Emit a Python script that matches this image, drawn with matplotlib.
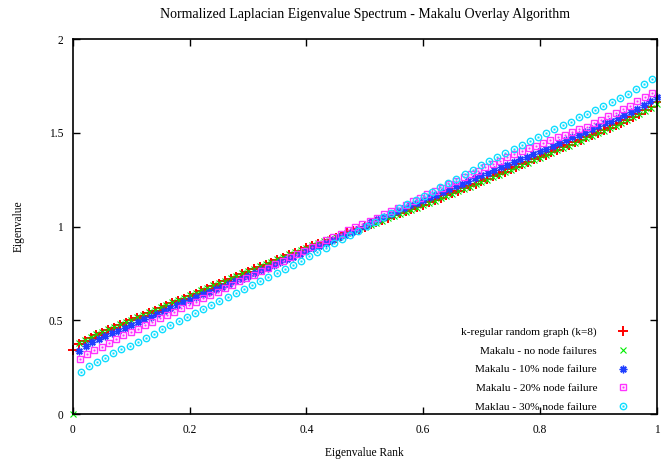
import numpy as np
import matplotlib.pyplot as plt

plt.rcParams['font.family'] = ['Liberation Serif', 'DejaVu Serif']

# --- data ---
# k-regular random graph (k=8), rank i/100
rank_kreg = np.arange(101) / 100
eig_kreg = [0.340, 0.372, 0.391, 0.406, 0.420, 0.434, 0.447, 0.460, 0.473, 0.486,
            0.499, 0.512, 0.525, 0.538, 0.551, 0.564, 0.577, 0.590, 0.603, 0.616,
            0.629, 0.642, 0.655, 0.668, 0.681, 0.694, 0.707, 0.720, 0.733, 0.746,
            0.758, 0.771, 0.783, 0.796, 0.808, 0.821, 0.833, 0.846, 0.858, 0.871,
            0.883, 0.895, 0.906, 0.918, 0.929, 0.941, 0.952, 0.964, 0.975, 0.987,
            0.998,
            1.013, 1.025, 1.036, 1.048, 1.059, 1.071, 1.082, 1.094, 1.105, 1.117,
            1.129, 1.142, 1.154, 1.167, 1.179, 1.192, 1.204, 1.217, 1.229, 1.242,
            1.254, 1.267, 1.280, 1.293, 1.306, 1.319, 1.332, 1.345, 1.358, 1.371,
            1.384, 1.397, 1.410, 1.423, 1.436, 1.449, 1.462, 1.475, 1.488, 1.501,
            1.514, 1.527, 1.540, 1.554, 1.570, 1.586, 1.602, 1.619, 1.638, 1.663]

# Makalu - no node failures
rank_m0 = np.arange(101) / 100
eig_m0 = [0.000, 0.377, 0.396, 0.411, 0.425, 0.439, 0.452, 0.465, 0.478, 0.491,
          0.504, 0.517, 0.530, 0.543, 0.556, 0.569, 0.582, 0.595, 0.608, 0.621,
          0.634, 0.647, 0.660, 0.673, 0.686, 0.699, 0.712, 0.725, 0.738, 0.751,
          0.763, 0.776, 0.788, 0.801, 0.813, 0.826, 0.838, 0.851, 0.863, 0.876,
          0.888, 0.900, 0.911, 0.922, 0.933, 0.945, 0.956, 0.967, 0.978, 0.989,
          0.999,
          1.009, 1.021, 1.032, 1.044, 1.055, 1.067, 1.078, 1.090, 1.101, 1.113,
          1.125, 1.138, 1.150, 1.163, 1.175, 1.188, 1.200, 1.213, 1.225, 1.238,
          1.250, 1.263, 1.276, 1.289, 1.302, 1.315, 1.328, 1.341, 1.354, 1.367,
          1.380, 1.393, 1.406, 1.419, 1.432, 1.445, 1.458, 1.471, 1.484, 1.497,
          1.510, 1.523, 1.536, 1.550, 1.566, 1.582, 1.598, 1.615, 1.634, 1.655]

# Makalu - 10% node failure
rank_m10 = np.arange(1, 91) / 90
eig_m10 = [0.338, 0.364, 0.383, 0.399, 0.415, 0.430, 0.445, 0.460, 0.475, 0.490,
           0.505, 0.520, 0.535, 0.550, 0.565, 0.580, 0.595, 0.609, 0.623, 0.638,
           0.652, 0.666, 0.680, 0.694, 0.708, 0.722, 0.737, 0.752, 0.766, 0.781,
           0.796, 0.810, 0.825, 0.840, 0.854, 0.869, 0.884, 0.898, 0.913, 0.928,
           0.942, 0.957, 0.972, 0.986, 1.001, 1.024, 1.038, 1.053, 1.068, 1.082,
           1.097, 1.112, 1.126, 1.141, 1.156, 1.170, 1.185, 1.200, 1.214, 1.229,
           1.244, 1.258, 1.273, 1.288, 1.302, 1.316, 1.330, 1.344, 1.358, 1.372,
           1.387, 1.401, 1.415, 1.430, 1.445, 1.460, 1.475, 1.490, 1.505, 1.520,
           1.535, 1.550, 1.565, 1.580, 1.595, 1.611, 1.627, 1.646, 1.672, 1.692]

# Makalu - 20% node failure
rank_m20 = np.linspace(0.012, 0.992, 80)
eig_m20 = [0.292, 0.318, 0.340, 0.360, 0.381, 0.400, 0.420, 0.438, 0.456, 0.474,
           0.491, 0.510, 0.528, 0.545, 0.563, 0.581, 0.599, 0.617, 0.635, 0.653,
           0.671, 0.689, 0.708, 0.726, 0.744, 0.763, 0.781, 0.799, 0.818, 0.836,
           0.854, 0.872, 0.890, 0.908, 0.926, 0.944, 0.962, 0.979, 0.997, 1.014,
           1.031, 1.048, 1.065, 1.082, 1.099, 1.116, 1.135, 1.153, 1.171, 1.190,
           1.208, 1.226, 1.244, 1.263, 1.280, 1.298, 1.316, 1.333, 1.351, 1.369,
           1.387, 1.404, 1.418, 1.432, 1.447, 1.461, 1.475, 1.489, 1.504, 1.518,
           1.533, 1.551, 1.569, 1.587, 1.605, 1.625, 1.645, 1.667, 1.689, 1.713]

# Maklau - 30% node failure
rank_m30 = np.linspace(0.013, 0.993, 71)
eig_m30 = [0.226, 0.255, 0.279, 0.301, 0.325, 0.347, 0.365, 0.386, 0.408, 0.429,
           0.452, 0.473, 0.495, 0.516, 0.537, 0.559, 0.580, 0.601, 0.623, 0.644,
           0.667, 0.688, 0.710, 0.731, 0.752, 0.774, 0.797, 0.818, 0.841, 0.864,
           0.887, 0.910, 0.933, 0.956, 0.978, 1.001, 1.024, 1.049, 1.072, 1.097,
           1.118, 1.143, 1.163, 1.186, 1.209, 1.232, 1.255, 1.278, 1.303, 1.326,
           1.349, 1.370, 1.392, 1.413, 1.434, 1.456, 1.477, 1.498, 1.520, 1.541,
           1.560, 1.582, 1.601, 1.623, 1.644, 1.665, 1.686, 1.708, 1.733, 1.759,
           1.786]

labels = ['k-regular random graph (k=8)', 'Makalu - no node failures',
          'Makalu - 10% node failure', 'Makalu - 20% node failure',
          'Maklau - 30% node failure']
xticks = [0, 0.2, 0.4, 0.6, 0.8, 1]
xtick_labels = ['0', '0.2', '0.4', '0.6', '0.8', '1']
yticks = [0, 0.5, 1, 1.5, 2]
ytick_labels = ['0', '0.5', '1', '1.5', '2']

fig = plt.figure(figsize=(6.61, 4.61), dpi=100)
ax = fig.add_axes([73 / 661, 1 - 414 / 461, 583.5 / 661, 375 / 461])

mw = 1.0
h_kreg, = ax.plot(rank_kreg, eig_kreg, ls='none', marker='+', ms=6.5, mew=1.4,
                  color='#ff0000', clip_on=False)
h_m0, = ax.plot(rank_m0, eig_m0, ls='none', marker='x', ms=3.8, mew=0.8,
                color='#00ee00', clip_on=False)
h_m10, = ax.plot(rank_m10, eig_m10, ls='none', marker=(8, 2, 0), ms=5.5, mew=mw,
                 color='#1f3fff', clip_on=False)
h_m20, = ax.plot(rank_m20, eig_m20, ls='none', marker='s', ms=5, mew=mw,
                 mfc='none', color='#ff33ff', clip_on=False)
d_m20, = ax.plot(rank_m20, eig_m20, ls='none', marker='s', ms=1, mew=0.4,
                 color='#ff33ff', clip_on=False)
h_m30, = ax.plot(rank_m30, eig_m30, ls='none', marker='o', ms=4.6, mew=mw,
                 mfc='none', color='#11ddff', clip_on=False)
d_m30, = ax.plot(rank_m30, eig_m30, ls='none', marker='s', ms=1, mew=0.4,
                 color='#11ddff', clip_on=False)

ax.set_xlim(0, 1)
ax.set_ylim(0, 2)
ax.set_xticks(xticks)
ax.set_xticklabels(xtick_labels)
ax.set_yticks(yticks)
ax.set_yticklabels(ytick_labels)
ax.tick_params(direction='in', length=5, width=1, top=True, right=True,
               labelsize=8.3, pad=7)
for s in ax.spines.values():
    s.set_linewidth(1.2)

ax.set_title('Normalized Laplacian Eigenvalue Spectrum - Makalu Overlay Algorithm',
             fontsize=10, pad=15)
ax.set_xlabel('Eigenvalue Rank', fontsize=8.3, labelpad=8)
ax.set_ylabel('Eigenvalue', fontsize=8.3, labelpad=17)

ax.legend([h_kreg, h_m0, h_m10, (h_m20, d_m20), (h_m30, d_m30)], labels,
          loc='lower right', bbox_to_anchor=(0.957, 0.006), markerfirst=False,
          frameon=False, fontsize=8.1, numpoints=1, handlelength=1.5,
          handletextpad=1.55, labelspacing=0.78, borderaxespad=0, borderpad=0)

fig.savefig('out.png', dpi=100)
